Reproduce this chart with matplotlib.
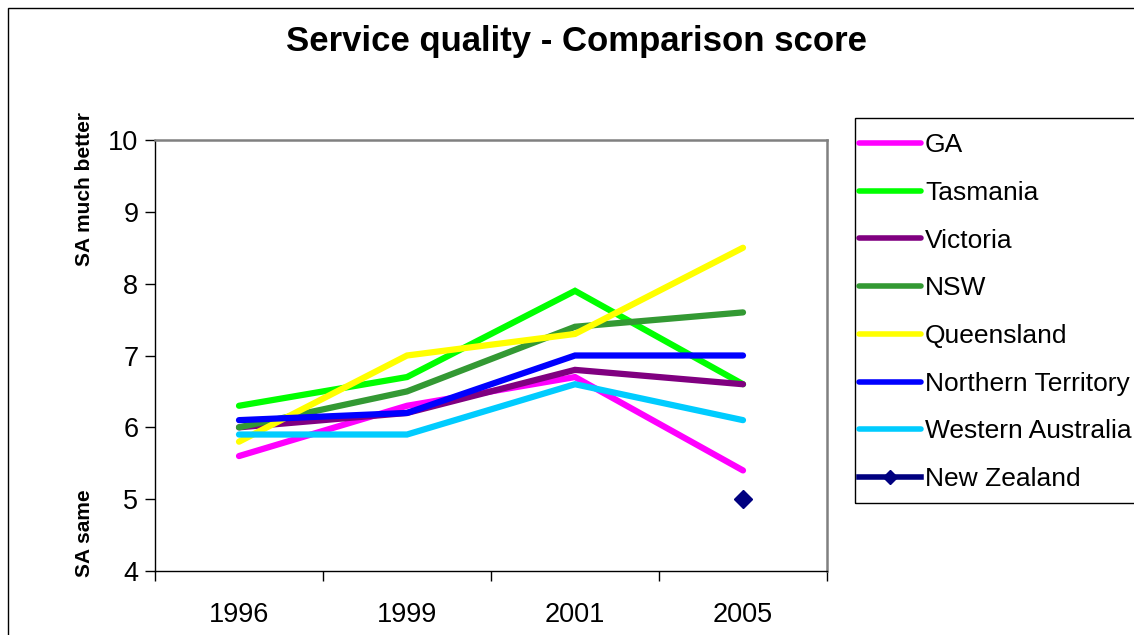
import matplotlib.pyplot as plt
import numpy as np
from matplotlib.patches import Rectangle

plt.rcParams['font.family'] = ['Liberation Sans', 'DejaVu Sans']

years = ['1996', '1999', '2001', '2005']
ga = [5.6, 6.3, 6.7, 5.4]
tasmania = [6.3, 6.7, 7.9, 6.6]
victoria = [6.0, 6.2, 6.8, 6.6]
nsw = [6.0, 6.5, 7.4, 7.6]
queensland = [5.8, 7.0, 7.3, 8.5]
northern_territory = [6.1, 6.2, 7.0, 7.0]
western_australia = [5.9, 5.9, 6.6, 6.1]
new_zealand = [np.nan, np.nan, np.nan, 5.0]

series = [
    ('GA', ga, '#FF00FF'),
    ('Tasmania', tasmania, '#00FF00'),
    ('Victoria', victoria, '#800080'),
    ('NSW', nsw, '#339933'),
    ('Queensland', queensland, '#FFFF00'),
    ('Northern Territory', northern_territory, '#0000FF'),
    ('Western Australia', western_australia, '#00CCFF'),
]

fig = plt.figure(figsize=(11.34, 6.35), dpi=100)
ax = fig.add_axes([155/1134, 1 - 571/635, (827-155)/1134, (571-140)/635])

x = np.arange(len(years))
handles = []
for name, vals, col in series:
    h, = ax.plot(x, vals, color=col, linewidth=4.5, solid_capstyle='round',
                 solid_joinstyle='miter', label=name)
    handles.append(h)
h, = ax.plot(x, new_zealand, color='#000080', linewidth=3, marker='D',
             markersize=9, label='New Zealand')
handles.append(h)

ax.set_xlim(-0.5, 3.5)
ax.set_ylim(4, 10)
ax.set_yticks(range(4, 11))
ax.set_xticks(x)
ax.set_xticklabels(years)
ax.set_xticks(np.arange(-0.5, 4, 1), minor=True)
ax.tick_params(axis='x', which='major', length=0, labelsize=19.5, pad=22)
ax.tick_params(axis='x', which='minor', length=7, width=1, direction='out')
ax.tick_params(axis='y', length=7, width=1, direction='out', labelsize=19.5, pad=5)

for side in ['top', 'right']:
    ax.spines[side].set_color('#808080')
    ax.spines[side].set_linewidth(1.8)
for side in ['left', 'bottom']:
    ax.spines[side].set_color('black')
    ax.spines[side].set_linewidth(1)

fig.text(576/1134, 1 - 42/635, 'Service quality - Comparison score',
         ha='center', va='center', fontsize=25, fontweight='bold')
fig.text(84/1134, 1 - 189/635, 'SA much better', rotation=90,
         ha='center', va='center', fontsize=15, fontweight='bold')
fig.text(84/1134, 1 - 533/635, 'SA same', rotation=90,
         ha='center', va='center', fontsize=15, fontweight='bold')

# outer chart border
fig.add_artist(Rectangle((8/1134, -0.2), 1.2, 1.2 - 8/635,
                         transform=fig.transFigure, fill=False,
                         edgecolor='black', linewidth=1))
# legend box
fig.add_artist(Rectangle((855/1134, 1 - 503/635), 0.3, (503-118)/635,
                         transform=fig.transFigure, fill=False,
                         edgecolor='black', linewidth=1))

leg = fig.legend(handles=handles, loc='upper left',
                 bbox_to_anchor=(859/1134, 1 - 133/635),
                 frameon=False, fontsize=19, handlelength=2.35,
                 handletextpad=0.15, labelspacing=0.9, borderaxespad=0,
                 borderpad=0)
for lh in leg.get_lines():
    lh.set_linewidth(4)
    lh.set_markersize(7)

fig.savefig('out.png', dpi=100)
